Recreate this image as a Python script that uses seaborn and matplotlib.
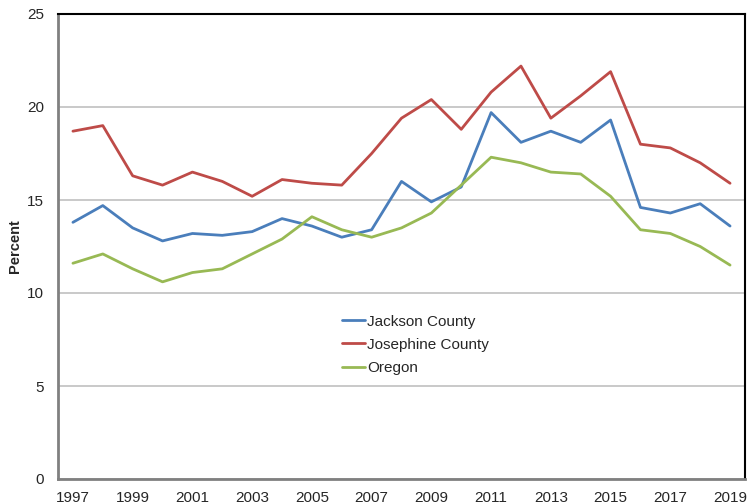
import matplotlib
matplotlib.use("Agg")
import matplotlib.pyplot as plt
import seaborn as sns
import pandas as pd

years = list(range(1997, 2020))
jackson = [13.8, 14.7, 13.5, 12.8, 13.2, 13.1, 13.3, 14.0, 13.6, 13.0, 13.4, 16.0,
           14.9, 15.7, 19.7, 18.1, 18.7, 18.1, 19.3, 14.6, 14.3, 14.8, 13.6]
josephine = [18.7, 19.0, 16.3, 15.8, 16.5, 16.0, 15.2, 16.1, 15.9, 15.8, 17.5, 19.4,
             20.4, 18.8, 20.8, 22.2, 19.4, 20.6, 21.9, 18.0, 17.8, 17.0, 15.9]
oregon = [11.6, 12.1, 11.3, 10.6, 11.1, 11.3, 12.1, 12.9, 14.1, 13.4, 13.0, 13.5,
          14.3, 15.8, 17.3, 17.0, 16.5, 16.4, 15.2, 13.4, 13.2, 12.5, 11.5]
series_names = ["Jackson County", "Josephine County", "Oregon"]
colors = ["#4A7EBB", "#BE4B48", "#98B954"]
year_ticks = list(range(1997, 2020, 2))
y_ticks = [0, 5, 10, 15, 20, 25]

df = pd.DataFrame({
    "Year": years * 3,
    "Percent": jackson + josephine + oregon,
    "Area": [n for n in series_names for _ in years],
})

sns.set_style("white")
plt.rcParams["font.family"] = ["Liberation Sans", "DejaVu Sans"]

fig = plt.figure(figsize=(7.49, 5.04), dpi=100)
ax = fig.add_axes([58 / 749, 25 / 504, 687 / 749, 465 / 504])

sns.lineplot(data=df, x="Year", y="Percent", hue="Area", hue_order=series_names,
             palette=colors, linewidth=2, ax=ax)

ax.set_xlim(1996.5, 2019.5)
ax.set_ylim(0, 25)
ax.set_xticks(year_ticks)
ax.set_yticks(y_ticks)
ax.tick_params(axis="both", length=0, labelsize=11)
ax.tick_params(axis="x", pad=9)
ax.tick_params(axis="y", pad=10)
ax.yaxis.grid(True, color="#C0C0C0", linewidth=1.2)
ax.set_axisbelow(True)
ax.set_xlabel("")
ax.set_ylabel("Percent", fontsize=10.5, fontweight="bold")
ax.yaxis.set_label_coords(-0.052, 0.5)

for side in ["left", "bottom"]:
    ax.spines[side].set_color("#808080")
    ax.spines[side].set_linewidth(2)
for side in ["top", "right"]:
    ax.spines[side].set_color("black")
    ax.spines[side].set_linewidth(1.5)

ax.legend(loc="upper left", bbox_to_anchor=(0.403, 0.37), frameon=False,
          fontsize=11, handlelength=1.5, handletextpad=0.1, labelspacing=0.6,
          borderpad=0)

fig.savefig("out.png", dpi=100)
